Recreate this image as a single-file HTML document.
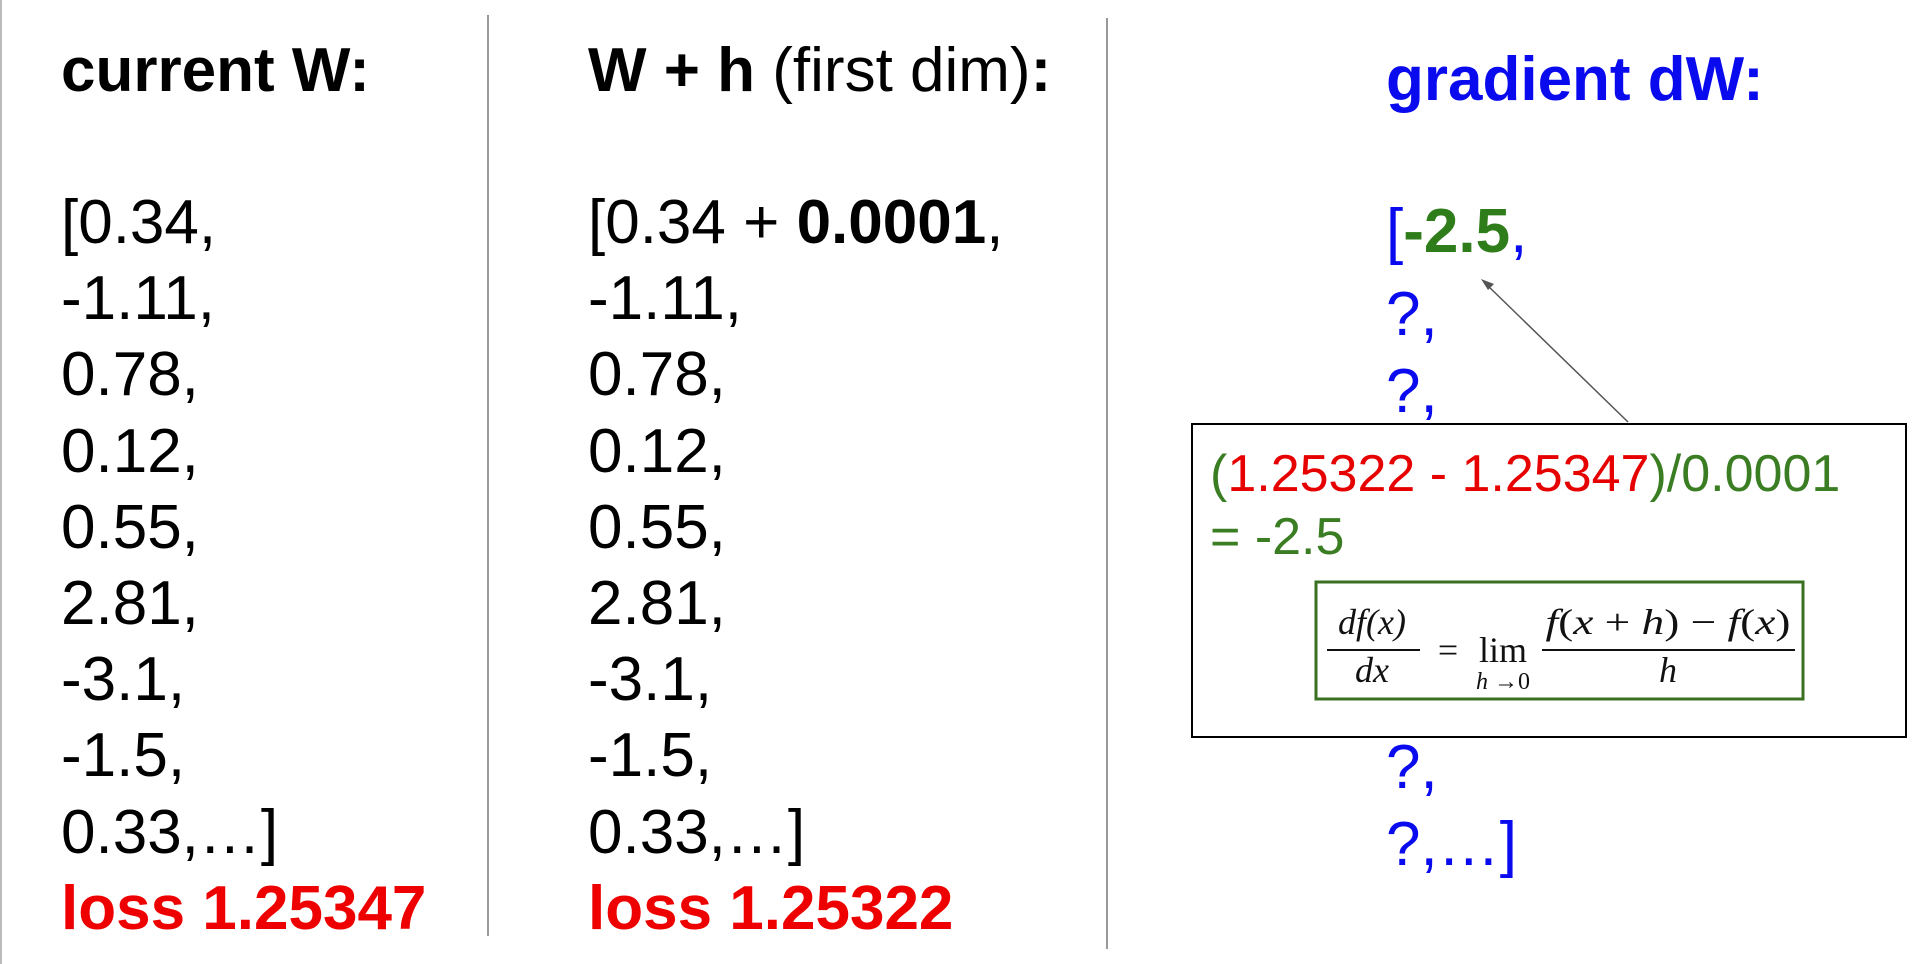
<!DOCTYPE html>
<html><head><meta charset="utf-8"><style>
html,body{margin:0;padding:0;background:#fff;width:1919px;height:964px;overflow:hidden}
svg{display:block}
text{font-family:"Liberation Sans",Arial,sans-serif}
.m{font-family:"Liberation Serif","DejaVu Serif",serif}
</style></head><body>
<svg width="1919" height="964" viewBox="0 0 1919 964">
<line x1="1" y1="0" x2="1" y2="964" stroke="#bbb" stroke-width="2"/>
<line x1="488" y1="15" x2="488" y2="936" stroke="#999" stroke-width="2"/>
<line x1="1107" y1="18" x2="1107" y2="949" stroke="#999" stroke-width="2"/>

<g font-size="62">
<text x="61" y="91" font-weight="bold">current W:</text>
<text x="61" y="243">[0.34,</text>
<text x="61" y="319">-1.11,</text>
<text x="61" y="395">0.78,</text>
<text x="61" y="472">0.12,</text>
<text x="61" y="548">0.55,</text>
<text x="61" y="624">2.81,</text>
<text x="61" y="700">-3.1,</text>
<text x="61" y="776">-1.5,</text>
<text x="61" y="853">0.33,…]</text>
<text x="61" y="929" fill="#ee0000" font-weight="bold">loss 1.25347</text>
</g>

<g font-size="62">
<text x="588" y="91"><tspan font-weight="bold">W + h</tspan> (first dim)<tspan font-weight="bold">:</tspan></text>
<text x="588" y="243">[0.34 + <tspan font-weight="bold">0.0001</tspan>,</text>
<text x="588" y="319">-1.11,</text>
<text x="588" y="395">0.78,</text>
<text x="588" y="472">0.12,</text>
<text x="588" y="548">0.55,</text>
<text x="588" y="624">2.81,</text>
<text x="588" y="700">-3.1,</text>
<text x="588" y="776">-1.5,</text>
<text x="588" y="853">0.33,…]</text>
<text x="588" y="929" fill="#ee0000" font-weight="bold">loss 1.25322</text>
</g>

<g font-size="62" fill="#0a0aee">
<text x="1386" y="100" font-weight="bold">gradient dW:</text>
<text x="1386" y="252">[<tspan fill="#2e7d1a" font-weight="bold">-2.5</tspan>,</text>
<text x="1386" y="335">?,</text>
<text x="1386" y="412">?,</text>
<text x="1386" y="788">?,</text>
<text x="1386" y="865">?,…]</text>
</g>

<line x1="1628" y1="422" x2="1485" y2="283" stroke="#555" stroke-width="1.5"/>
<polygon points="1481,279 1494,284 1488,290" fill="#555"/>

<rect x="1192" y="424" width="714" height="313" fill="#fff" stroke="#000" stroke-width="2"/>
<g font-size="52" fill="#3a7d22">
<text x="1210" y="491">(<tspan fill="#e60000">1.25322 - 1.25347</tspan>)/0.0001</text>
<text x="1210" y="554">= -2.5</text>
</g>
<rect x="1316" y="582" width="487" height="117" fill="#fff" stroke="#3a7022" stroke-width="3"/>
<g class="m" font-size="36" fill="#111">
<text class="m" x="1372" y="634" text-anchor="middle" font-style="italic">df(x)</text>
<line x1="1327" y1="650" x2="1420" y2="650" stroke="#111" stroke-width="2"/>
<text class="m" x="1372" y="682" text-anchor="middle" font-style="italic">dx</text>
<text class="m" x="1448" y="662" text-anchor="middle">=</text>
<text class="m" x="1503" y="662" text-anchor="middle">lim</text>
<text class="m" x="1503" y="689" text-anchor="middle" font-size="24"><tspan font-style="italic">h</tspan> →0</text>
<text class="m" x="1668" y="634" text-anchor="middle" textLength="245" lengthAdjust="spacingAndGlyphs"><tspan font-style="italic">f</tspan>(<tspan font-style="italic">x</tspan> + <tspan font-style="italic">h</tspan>) − <tspan font-style="italic">f</tspan>(<tspan font-style="italic">x</tspan>)</text>
<line x1="1542" y1="650" x2="1795" y2="650" stroke="#111" stroke-width="2"/>
<text class="m" x="1668" y="682" text-anchor="middle" font-style="italic">h</text>
</g>
</svg>
</body></html>
